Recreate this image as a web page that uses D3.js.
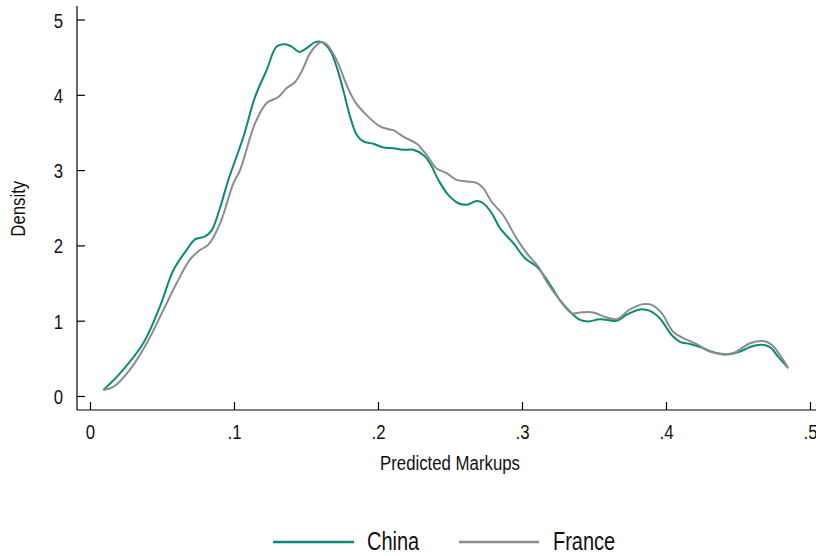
<!DOCTYPE html>
<html>
<head>
<meta charset="utf-8">
<script src="https://cdn.jsdelivr.net/npm/d3@7"></script>
<style>
  html, body { margin: 0; padding: 0; background: #fff; }
  svg { display: block; }
  text { font-family: "Liberation Sans", Arial, sans-serif; fill: #111; }
</style>
</head>
<body>
<svg id="chart" width="816" height="556"></svg>
<script>
// ---- Data ----
const chinaX = [0.0093,0.0208,0.0370,0.0486,0.0579,0.0671,0.0729,0.0799,0.0845,0.0903,0.0961,0.1065,0.1146,0.1227,0.1296,0.1354,0.1400,0.1454,0.1505,0.1563,0.1609,0.1667,0.1713,0.1759,0.1806,0.1852,0.1898,0.1968,0.2037,0.2106,0.2176,0.2245,0.2315,0.2361,0.2419,0.2488,0.2558,0.2616,0.2685,0.2731,0.2789,0.2847,0.2940,0.3021,0.3102,0.3160,0.3218,0.3264,0.3345,0.3403,0.3461,0.3542,0.3657,0.3727,0.3819,0.3889,0.3958,0.4039,0.4097,0.4167,0.4236,0.4329,0.4421,0.4514,0.4583,0.4664,0.4722,0.4780,0.4849];
const chinaY = [0.08,0.30,0.70,1.19,1.67,1.94,2.08,2.12,2.20,2.50,2.87,3.44,3.97,4.33,4.64,4.67,4.64,4.57,4.62,4.70,4.70,4.59,4.37,4.06,3.71,3.47,3.38,3.35,3.30,3.29,3.27,3.27,3.20,3.09,2.87,2.67,2.56,2.54,2.59,2.56,2.43,2.23,2.03,1.83,1.72,1.58,1.41,1.27,1.10,1.01,0.99,1.02,1.00,1.08,1.15,1.13,1.03,0.81,0.72,0.69,0.65,0.58,0.55,0.59,0.65,0.68,0.65,0.52,0.37];

const franceX = [0.0093,0.0162,0.0278,0.0394,0.0509,0.0602,0.0694,0.0764,0.0822,0.0903,0.0995,0.1042,0.1146,0.1227,0.1308,0.1366,0.1424,0.1470,0.1528,0.1574,0.1609,0.1643,0.1713,0.1782,0.1840,0.1921,0.2014,0.2083,0.2106,0.2188,0.2269,0.2338,0.2407,0.2477,0.2546,0.2616,0.2685,0.2731,0.2789,0.2870,0.2963,0.3044,0.3113,0.3171,0.3252,0.3345,0.3403,0.3495,0.3576,0.3657,0.3750,0.3843,0.3901,0.3970,0.4051,0.4120,0.4213,0.4306,0.4387,0.4468,0.4583,0.4676,0.4734,0.4849];
const franceY = [0.08,0.12,0.35,0.70,1.14,1.50,1.81,1.94,2.01,2.29,2.82,3.00,3.62,3.89,3.97,4.09,4.17,4.31,4.55,4.66,4.70,4.67,4.46,4.13,3.91,3.73,3.58,3.54,3.53,3.43,3.35,3.20,3.02,2.96,2.87,2.85,2.83,2.76,2.58,2.40,2.09,1.87,1.72,1.52,1.30,1.10,1.11,1.11,1.05,1.02,1.15,1.22,1.21,1.10,0.85,0.77,0.69,0.59,0.56,0.57,0.70,0.73,0.68,0.37];

const seriesNames = ["China", "France"];
const seriesColors = ["#0b8a76", "#8c8c8c"];
const xTicks = [0, 0.1, 0.2, 0.3, 0.4, 0.5];
const yTicks = [0, 1, 2, 3, 4, 5];
const xTitle = "Predicted Markups";
const yTitle = "Density";

// ---- Layout ----
const svg = d3.select("#chart");
const x = d3.scaleLinear().domain([0, 0.5]).range([90, 810]);
const y = d3.scaleLinear().domain([0, 5]).range([396, 19.5]);
const axisY0 = 410, axisX0 = 77;
const narrow = 0.8;
const fmt = d => d === 0 ? "0" : d3.format(".1f")(d).replace(/^0/, "");

// axis lines
svg.append("line").attr("x1", axisX0).attr("x2", 816).attr("y1", axisY0).attr("y2", axisY0)
  .attr("stroke", "#000").attr("stroke-width", 1.2);
svg.append("line").attr("x1", axisX0).attr("x2", axisX0).attr("y1", 6).attr("y2", axisY0)
  .attr("stroke", "#000").attr("stroke-width", 1.2);

// x axis
const gx = svg.append("g").attr("transform", `translate(0,${axisY0})`)
  .call(d3.axisBottom(x).tickValues(xTicks).tickSize(-8).tickFormat(fmt));
gx.select(".domain").remove();
gx.selectAll(".tick line").attr("stroke", "#000").attr("stroke-width", 1.2);
gx.selectAll(".tick text")
  .attr("y", null).attr("dy", null)
  .attr("font-size", 21).attr("text-anchor", "middle")
  .attr("transform", `translate(0,29) scale(${narrow},1)`)
  .style("font-family", "'Liberation Sans', Arial, sans-serif").attr("fill", "#111");

// y axis
const gy = svg.append("g").attr("transform", `translate(${axisX0},0)`)
  .call(d3.axisLeft(y).tickValues(yTicks).tickSize(-8).tickFormat(d3.format("d")));
gy.select(".domain").remove();
gy.selectAll(".tick line").attr("stroke", "#000").attr("stroke-width", 1.2);
gy.selectAll(".tick text")
  .attr("x", null).attr("dy", null)
  .attr("font-size", 21).attr("text-anchor", "end")
  .attr("transform", `translate(-14,7.5) scale(${narrow},1)`)
  .style("font-family", "'Liberation Sans', Arial, sans-serif").attr("fill", "#111");

// axis titles
svg.append("text").attr("font-size", 21).attr("text-anchor", "middle")
  .attr("transform", `translate(${x(0.25)},470) scale(${narrow},1)`).text(xTitle);
svg.append("text").attr("font-size", 21).attr("text-anchor", "middle")
  .attr("transform", `translate(25,${y(2.5) + 1}) rotate(-90) scale(${narrow},1)`).text(yTitle);

// lines
const line = d3.line().x(d => x(d[0])).y(d => y(d[1])).curve(d3.curveCatmullRom.alpha(0.5));
const series = [
  { name: seriesNames[0], color: seriesColors[0], pts: d3.zip(chinaX, chinaY) },
  { name: seriesNames[1], color: seriesColors[1], pts: d3.zip(franceX, franceY) }
];
// draw France first, China on top (China appears beneath gray in places; keep gray last)
svg.append("path").datum(series[0].pts).attr("d", line)
  .attr("fill", "none").attr("stroke", series[0].color).attr("stroke-width", 2);
svg.append("path").datum(series[1].pts).attr("d", line)
  .attr("fill", "none").attr("stroke", series[1].color).attr("stroke-width", 2);

// legend
const legend = [
  { x1: 273, x2: 354, tx: 367 },
  { x1: 459, x2: 539, tx: 553 }
];
series.forEach((s, i) => {
  const L = legend[i];
  svg.append("line").attr("x1", L.x1).attr("x2", L.x2).attr("y1", 542).attr("y2", 542)
    .attr("stroke", s.color).attr("stroke-width", 2.5);
  svg.append("text").attr("font-size", 25)
    .attr("transform", `translate(${L.tx},549.5) scale(${narrow},1)`).text(s.name);
});
</script>
</body>
</html>
